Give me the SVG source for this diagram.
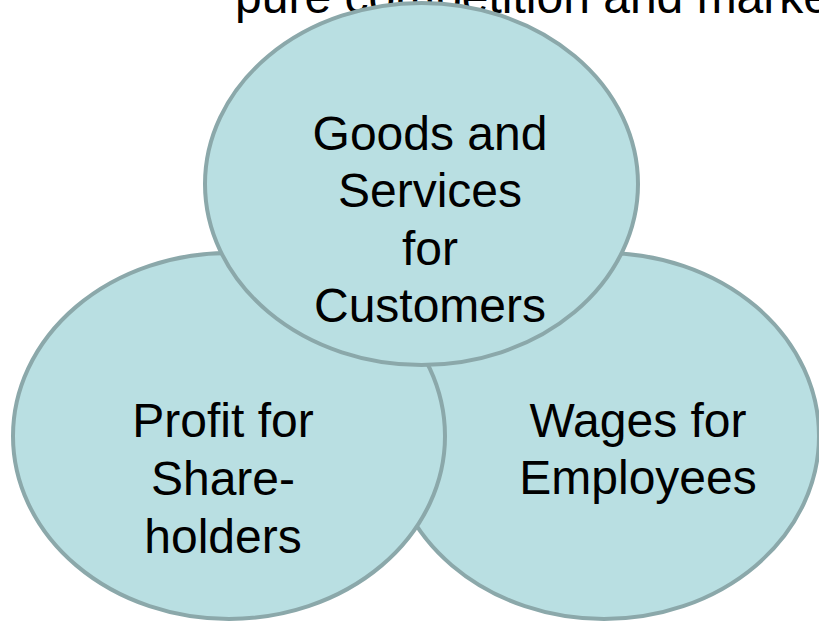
<svg xmlns="http://www.w3.org/2000/svg" width="819" height="622" viewBox="0 0 819 622">
<style>
.bg{fill:#ffffff}
.node{fill:#b9dfe2;stroke:#8ba8aa;stroke-width:4}
.lbl{font-family:"Liberation Sans",Arial,sans-serif;font-size:48px;fill:#000;text-anchor:middle}
.title{font-family:"Liberation Sans",Arial,sans-serif;font-size:48px;fill:#000}
</style>
<rect class="bg" x="0" y="0" width="819" height="622"/>
<text class="title" x="235" y="13">pure competition and marke</text>
<g id="wages">
<ellipse class="node" cx="604" cy="436" rx="215" ry="183"/>
<text class="lbl" x="638" y="437">Wages for</text>
<text class="lbl" x="638" y="494">Employees</text>
</g>
<g id="profit">
<ellipse class="node" cx="229" cy="436" rx="216" ry="183"/>
<text class="lbl" x="223" y="437">Profit for</text>
<text class="lbl" x="223" y="495">Share-</text>
<text class="lbl" x="223" y="553">holders</text>
</g>
<g id="goods">
<ellipse class="node" cx="421.5" cy="184" rx="216.5" ry="181"/>
<text class="lbl" x="430" y="150">Goods and</text>
<text class="lbl" x="430" y="207">Services</text>
<text class="lbl" x="430" y="265">for</text>
<text class="lbl" x="430" y="322">Customers</text>
</g>
<g id="connectors"/>
</svg>
